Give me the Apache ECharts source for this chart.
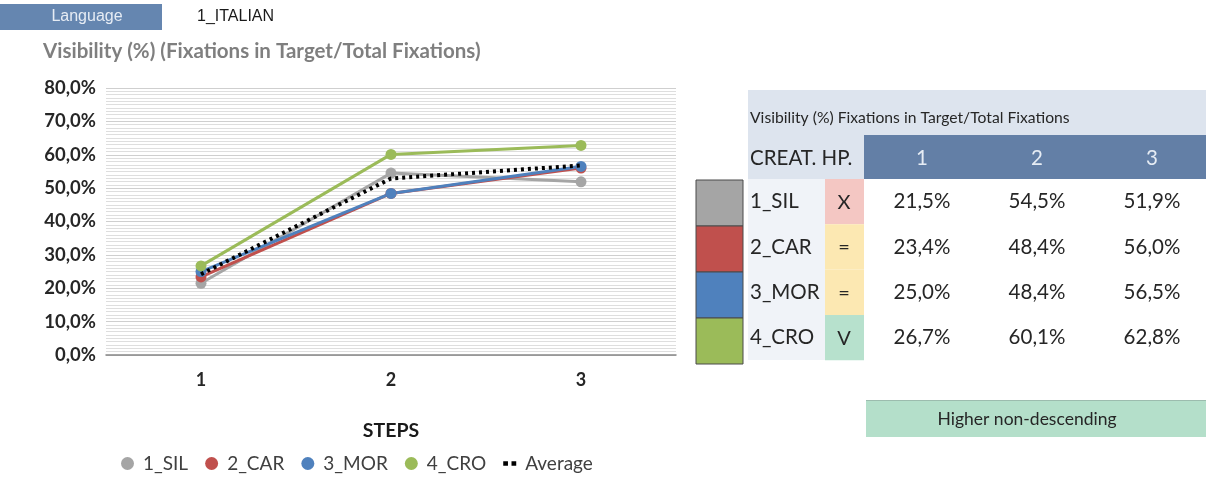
<!DOCTYPE html>
<html>
<head>
<meta charset="utf-8">
<script src="https://cdn.jsdelivr.net/npm/echarts@6/dist/echarts.min.js"></script>
<style>
  html, body { margin: 0; padding: 0; background: #ffffff; }
  #chart { width: 1206px; height: 479px; }
</style>
</head>
<body>
<div id="chart"></div>
<script>
// Steps on the x axis
const steps = ['1', '2', '3'];
// Creative hypotheses (series) and their visibility per step, in %
const creatives = ['1_SIL', '2_CAR', '3_MOR', '4_CRO'];
const sil = [21.5, 54.5, 51.9];
const car = [23.4, 48.4, 56.0];
const mor = [25.0, 48.4, 56.5];
const cro = [26.7, 60.1, 62.8];
const average = [24.2, 52.9, 56.8];
// Hypothesis check marks per creative
const hpMarks = ['X', '=', '=', 'V'];
const yTicks = [0, 10, 20, 30, 40, 50, 60, 70, 80];

const seriesValues = [sil, car, mor, cro];
const colors = ['#a5a5a5', '#c0504d', '#4f81bd', '#9bbb59'];
const hpColors = ['#f4c7c3', '#fce8b2', '#fce8b2', '#b7e1cd'];
const FONT = 'Lato';
const SANS = '"Liberation Sans"';
const pct = v => v.toFixed(1).replace('.', ',') + '%';

const chart = echarts.init(document.getElementById('chart'));

// Header boxes and the side table with colour swatches
const graphics = [];
graphics.push({ type: 'rect', shape: { x: 0, y: 4, width: 162, height: 26 }, style: { fill: '#6586b0' } });
graphics.push({ type: 'text', x: 87, y: 17, style: { text: 'Language', fill: '#e6ecf4', font: '16px ' + SANS, align: 'center', verticalAlign: 'middle' } });
graphics.push({ type: 'text', x: 197, y: 17, style: { text: '1_ITALIAN', fill: '#1a1a1a', font: '16px ' + SANS, verticalAlign: 'middle' } });

graphics.push({ type: 'rect', shape: { x: 748, y: 90, width: 458, height: 89 }, style: { fill: '#dde4ee' } });
graphics.push({ type: 'text', x: 750, y: 118, style: { text: 'Visibility (%) Fixations in Target/Total Fixations', fill: '#262626', font: '15.7px ' + FONT, verticalAlign: 'middle' } });
graphics.push({ type: 'rect', shape: { x: 864, y: 135, width: 342, height: 44 }, style: { fill: '#637fa6' } });
graphics.push({ type: 'text', x: 750, y: 158, style: { text: 'CREAT. HP.', fill: '#262626', font: '20.5px ' + FONT, verticalAlign: 'middle' } });
const colX = [922, 1037, 1152];
steps.forEach((s, j) => {
  graphics.push({ type: 'text', x: colX[j], y: 158, style: { text: s, fill: '#e6ecf4', font: '20.5px ' + FONT, align: 'center', verticalAlign: 'middle' } });
});
graphics.push({ type: 'rect', shape: { x: 748, y: 179, width: 77, height: 181 }, style: { fill: '#f0f3f8' } });
const rowH = 45.3;
creatives.forEach((c, i) => {
  const top = 179 + i * rowH;
  const cy = top + rowH / 2;
  graphics.push({ type: 'rect', shape: { x: 696, y: 180 + i * 46, width: 47, height: 46 }, style: { fill: colors[i], stroke: '#4a4a4a', lineWidth: 1 } });
  graphics.push({ type: 'rect', shape: { x: 825, y: top, width: 39, height: rowH }, style: { fill: hpColors[i] } });
  graphics.push({ type: 'text', x: 750, y: cy, style: { text: c, fill: '#262626', font: '20.5px ' + FONT, verticalAlign: 'middle' } });
  graphics.push({ type: 'text', x: 844, y: cy + 1, style: { text: hpMarks[i], fill: '#262626', font: '20px ' + FONT, align: 'center', verticalAlign: 'middle' } });
  seriesValues[i].forEach((v, j) => {
    graphics.push({ type: 'text', x: colX[j], y: cy, style: { text: pct(v), fill: '#262626', font: '20.5px ' + FONT, align: 'center', verticalAlign: 'middle' } });
  });
});
graphics.push({ type: 'rect', shape: { x: 866, y: 400, width: 340, height: 37 }, style: { fill: '#b4dfca' } });
graphics.push({ type: 'rect', shape: { x: 866, y: 400, width: 340, height: 1 }, style: { fill: '#9cbcae' } });
graphics.push({ type: 'text', x: 1027, y: 419, style: { text: 'Higher non-descending', fill: '#262626', font: '17.5px ' + FONT, align: 'center', verticalAlign: 'middle' } });

const lineSeries = creatives.map((name, i) => ({
  name,
  type: 'line',
  data: seriesValues[i],
  symbol: 'circle',
  symbolSize: 11,
  itemStyle: { color: colors[i] },
  lineStyle: { color: colors[i], width: 3 },
  emphasis: { disabled: true }
}));
lineSeries.push({
  name: 'Average',
  type: 'line',
  data: average,
  symbol: 'none',
  itemStyle: { color: '#000000' },
  lineStyle: { color: '#000000', width: 4, type: [3, 4], cap: 'butt' },
  z: 5
});

chart.setOption({
  animation: false,
  textStyle: { fontFamily: FONT },
  title: {
    text: 'Visibility (%) (Fixations in Target/Total Fixations)',
    left: 38, top: 36,
    textStyle: { color: '#7f7f7f', fontSize: 20.5, fontWeight: 'bold', fontFamily: FONT }
  },
  legend: {
    top: 449, left: 116,
    itemWidth: 13, itemHeight: 13, itemGap: 17,
    textStyle: { fontSize: 19, color: '#404040', fontFamily: FONT, padding: [0, 0, 0, 4] },
    data: creatives.map(n => ({ name: n, icon: 'circle' })).concat([
      { name: 'Average', icon: 'path://M0,0h4v4h-4z M7,0h4v4h-4z', itemStyle: { color: '#000' } }
    ])
  },
  grid: { left: 106, right: 530, top: 88, bottom: 124, containLabel: false },
  xAxis: {
    type: 'category',
    data: steps,
    boundaryGap: true,
    name: 'STEPS',
    nameLocation: 'middle',
    nameGap: 66,
    nameTextStyle: { fontSize: 19.5, fontWeight: 'bold', color: '#1a1a1a' },
    axisLine: { lineStyle: { color: '#868686', width: 1.5 } },
    axisTick: { show: false },
    axisLabel: { fontSize: 18, fontWeight: 'bold', color: '#262626', margin: 16 }
  },
  yAxis: {
    type: 'value',
    min: yTicks[0], max: yTicks[yTicks.length - 1], interval: 10,
    axisLine: { show: false },
    axisTick: { show: false },
    axisLabel: { fontSize: 18.5, fontWeight: 'bold', color: '#262626', margin: 10, formatter: v => pct(v) },
    splitLine: { lineStyle: { color: '#cfcfcf', width: 1 } },
    minorTick: { show: false, splitNumber: 10 },
    minorSplitLine: { show: true, lineStyle: { color: '#dedede', width: 1 } }
  },
  graphic: graphics,
  series: lineSeries
});
</script>
</body>
</html>
